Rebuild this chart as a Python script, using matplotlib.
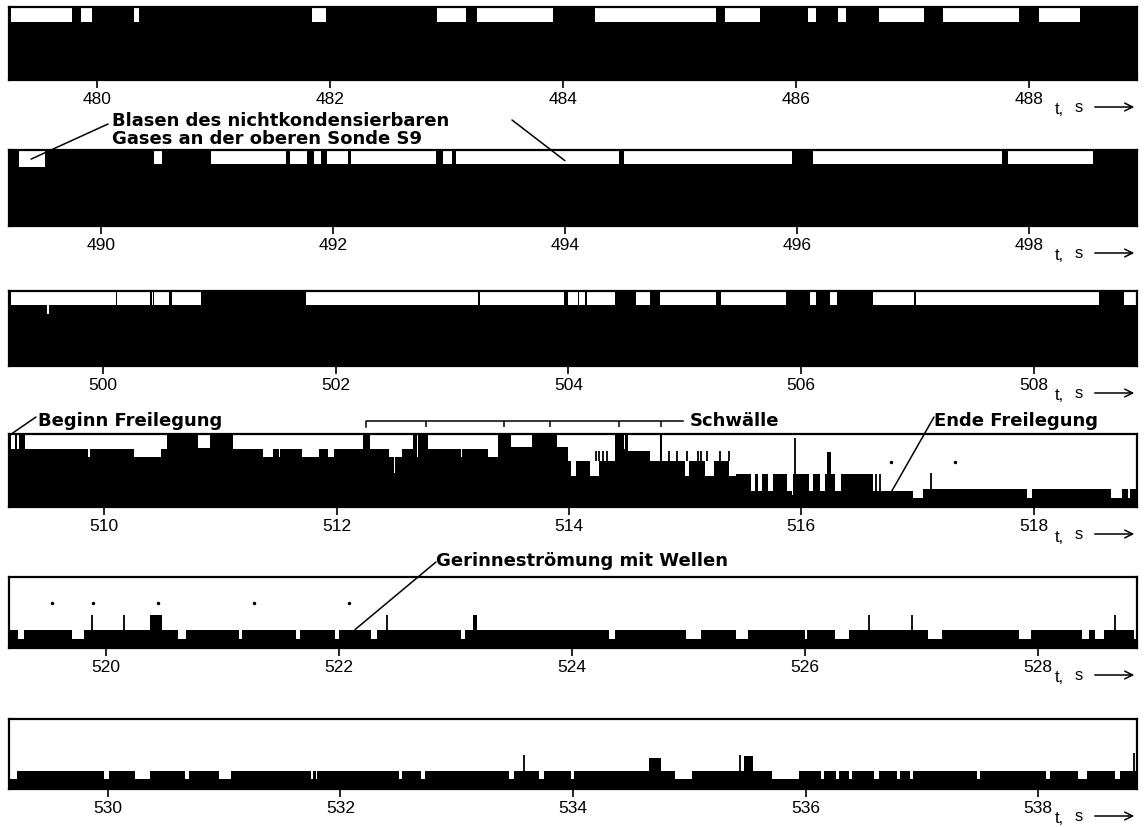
import matplotlib
matplotlib.use("Agg")
import matplotlib.pyplot as plt
from matplotlib.transforms import blended_transform_factory

plt.rcParams["font.family"] = ["Liberation Sans", "DejaVu Sans"]

W, H = 1148, 828
DPI = 100

# ---------------- time windows and tick labels of the six strips ----------------
strip_t0 = [479.24, 489.21, 499.19, 509.18, 519.17, 529.15]
strip_t1 = [488.93, 498.93, 508.89, 518.89, 528.85, 538.85]
strip_ticks = [
    [480, 482, 484, 486, 488],
    [490, 492, 494, 496, 498],
    [500, 502, 504, 506, 508],
    [510, 512, 514, 516, 518],
    [520, 522, 524, 526, 528],
    [530, 532, 534, 536, 538],
]

# ---------------- probe signal: base level + intervals (start, end, level) ----------------
# strip 1 (479 - 489 s)
s1_base = 1.0
s1_start = [479.26, 479.86, 480.31, 481.84, 482.92, 483.26, 484.27, 485.39, 486.10, 486.36, 486.71, 487.26, 488.09]
s1_end   = [479.78, 479.95, 480.36, 481.96, 483.17, 483.91, 485.31, 485.69, 486.17, 486.43, 487.10, 487.92, 488.44]
s1_level = [0.79] * 13

# strip 2 (489 - 499 s)
s2_base = 1.0
s2_start = [489.30, 490.46, 490.95, 491.63, 491.84, 491.95, 492.16, 492.95, 493.06, 494.51, 496.14, 497.82]
s2_end   = [489.52, 490.53, 491.60, 491.78, 491.90, 492.13, 492.89, 493.03, 494.47, 495.96, 497.77, 498.55]
s2_level = [0.78, 0.82, 0.82, 0.82, 0.82, 0.82, 0.82, 0.82, 0.82, 0.82, 0.82, 0.82]

# strip 3 (499 - 509 s)
s3_base = 1.0
s3_start = [499.21, 499.52, 500.12, 500.42, 500.44, 500.59, 501.74, 503.24, 504.00, 504.09, 504.16, 504.58,
            504.79, 505.31, 506.08, 506.25, 506.62, 506.99, 508.78]
s3_end   = [500.11, 499.535, 500.40, 500.43, 500.57, 500.84, 503.22, 503.96, 504.08, 504.14, 504.40, 504.70,
            505.27, 505.87, 506.13, 506.31, 506.97, 508.56, 508.88]
s3_level = [0.81, 0.70, 0.81, 0.81, 0.81, 0.81, 0.81, 0.81, 0.81, 0.81, 0.81, 0.81,
            0.81, 0.81, 0.81, 0.81, 0.81, 0.81, 0.81]

# strip 4 (509 - 519 s): uncovering of the probe
s4_base = 1.0
s4_start = [509.20, 509.25, 509.32, 509.86, 510.26, 510.81, 511.11, 511.37, 511.50, 511.70, 511.93,
            512.29, 512.45, 512.49, 512.68, 512.695, 512.79, 513.07, 513.30, 513.50,
            513.90, 513.99, 514.02, 514.18, 514.445, 514.475, 514.51, 514.70,
            514.80, 514.85, 515.00, 515.17, 515.38,
            515.44, 515.57, 515.63, 515.71, 515.88, 515.92, 516.07, 516.16, 516.29, 516.22,
            516.62, 516.96, 517.05, 517.94, 518.67, 518.81]
s4_end   = [509.235, 509.27, 510.54, 509.875, 510.49, 510.91, 512.23, 511.45, 511.515, 511.85, 511.98,
            512.66, 512.56, 512.50, 512.685, 512.70, 513.39, 513.08, 513.39, 513.68,
            513.99, 514.40, 514.06, 514.26, 514.45, 514.48, 514.70, 514.78,
            515.44, 514.855, 515.03, 515.25, 515.44,
            516.62, 515.60, 515.66, 515.76, 515.93, 515.925, 516.10, 516.20, 516.34, 516.26,
            516.96, 517.05, 518.89, 517.99, 518.76, 518.83]
s4_level = [0.79, 0.79, 0.79, 0.68, 0.68, 0.81, 0.80, 0.69, 0.69, 0.69, 0.69,
            0.80, 0.69, 0.47, 0.68, 0.68, 0.80, 0.68, 0.69, 0.82,
            0.82, 0.63, 0.43, 0.43, 0.80, 0.80, 0.77, 0.63,
            0.63, 0.25, 0.43, 0.43, 0.43,
            0.45, 0.22, 0.22, 0.22, 0.22, 0.16, 0.22, 0.22, 0.22, 0.76,
            0.22, 0.12, 0.25, 0.13, 0.13, 0.13]
s4_spike_t  = [514.23, 514.26, 514.29, 514.33, 514.86, 514.93, 515.02, 515.11, 515.14, 515.19, 515.30, 515.38,
               515.95, 516.64, 516.68, 517.12]
s4_spike_lo = [0.63, 0.63, 0.63, 0.63, 0.63, 0.63, 0.63, 0.63, 0.63, 0.63, 0.63, 0.63,
               0.45, 0.22, 0.22, 0.25]
s4_spike_hi = [0.77, 0.77, 0.77, 0.77, 0.77, 0.77, 0.77, 0.77, 0.77, 0.77, 0.77, 0.77,
               0.94, 0.45, 0.45, 0.46]
s4_dot_t = [516.77, 517.32]
s4_dot_y = [0.62, 0.62]

# strip 5 (519 - 529 s): stratified flow with waves
s5_base = 0.255
s5_start = [519.25, 519.71, 520.62, 521.14, 521.63, 521.97, 522.28, 523.05, 524.32, 524.98, 525.41, 526.00,
            526.26, 527.06, 527.84, 528.38, 528.49, 528.82, 520.38, 523.15]
s5_end   = [519.30, 519.81, 520.69, 521.17, 521.67, 522.00, 522.33, 523.08, 524.37, 525.11, 525.51, 526.02,
            526.38, 527.18, 527.94, 528.44, 528.57, 528.85, 520.48, 523.19]
s5_level = [0.13] * 18 + [0.47, 0.47]
s5_spike_t  = [519.88, 520.16, 522.41, 526.55, 526.92, 528.66]
s5_spike_lo = [0.255] * 6
s5_spike_hi = [0.47, 0.47, 0.47, 0.47, 0.47, 0.47]
s5_dot_t = [519.54, 519.89, 520.45, 521.27, 522.09]
s5_dot_y = [0.63, 0.63, 0.63, 0.63, 0.63]

# strip 6 (529 - 539 s)
s6_base = 0.26
s6_start = [529.16, 529.97, 530.23, 530.66, 530.96, 531.75, 531.79, 532.50, 532.69, 533.45, 533.71, 533.98,
            534.88, 535.71, 536.13, 536.26, 536.37, 536.59, 536.79, 536.90, 537.47, 538.07, 538.34, 538.66,
            534.65, 535.47]
s6_end   = [529.22, 530.01, 530.36, 530.70, 531.06, 531.765, 531.80, 532.53, 532.73, 533.49, 533.75, 534.01,
            535.02, 535.94, 536.16, 536.29, 536.40, 536.63, 536.81, 536.92, 537.50, 538.10, 538.42, 538.70,
            534.76, 535.55]
s6_level = [0.14] * 24 + [0.45, 0.47]
s6_spike_t  = [533.58, 535.44, 538.82]
s6_spike_lo = [0.26, 0.26, 0.26]
s6_spike_hi = [0.48, 0.48, 0.52]

strips = [
    (s1_base, s1_start, s1_end, s1_level, [], [], [], [], []),
    (s2_base, s2_start, s2_end, s2_level, [], [], [], [], []),
    (s3_base, s3_start, s3_end, s3_level, [], [], [], [], []),
    (s4_base, s4_start, s4_end, s4_level, s4_spike_t, s4_spike_lo, s4_spike_hi, s4_dot_t, s4_dot_y),
    (s5_base, s5_start, s5_end, s5_level, s5_spike_t, s5_spike_lo, s5_spike_hi, s5_dot_t, s5_dot_y),
    (s6_base, s6_start, s6_end, s6_level, s6_spike_t, s6_spike_lo, s6_spike_hi, [], []),
]

# strip frames in pixels (top, bottom), x from left to right edge
strip_top = [8, 151, 292, 435, 578, 720]
strip_bot = [81, 227, 367, 508, 649, 790]
X_LEFT, X_RIGHT = 9, 1137


def profile(t0, t1, base, starts, ends, levels):
    """Step profile: later intervals override earlier ones."""
    edges = sorted(set([t0, t1] + list(starts) + list(ends)))
    lv = []
    for a, b in zip(edges[:-1], edges[1:]):
        m = 0.5 * (a + b)
        v = base
        for s, e, l in zip(starts, ends, levels):
            if s <= m < e:
                v = l
        lv.append(v)
    lv.append(lv[-1])
    return edges, lv


fig = plt.figure(figsize=(W / DPI, H / DPI), dpi=DPI)
fig.patch.set_facecolor("white")

axes = []
for i, (base, st, en, lvl, sp_t, sp_lo, sp_hi, d_t, d_y) in enumerate(strips):
    top, bot = strip_top[i], strip_bot[i]
    ax = fig.add_axes([X_LEFT / W, 1 - bot / H, (X_RIGHT - X_LEFT) / W, (bot - top) / H])
    t0, t1 = strip_t0[i], strip_t1[i]
    edges, lv = profile(t0, t1, base, st, en, lvl)
    ax.fill_between(edges, 0, lv, step="post", color="black", lw=0)
    if sp_t:
        ax.vlines(sp_t, sp_lo, sp_hi, color="black", lw=1.3)
    if d_t:
        ax.plot(d_t, d_y, ".", color="black", ms=3)
    ax.set_xlim(t0, t1)
    ax.set_ylim(0, 1)
    ax.set_yticks([])
    ax.set_xticks(strip_ticks[i])
    ax.set_xticklabels([str(v) for v in strip_ticks[i]])
    ax.tick_params(axis="x", direction="out", length=6, width=1.2, pad=2, labelsize=12.5)
    for sp in ax.spines.values():
        sp.set_linewidth(1.6)
        sp.set_color("black")
    axes.append(ax)

    # time axis label at the right end of the strip
    ly = H - (bot + 29)
    fig.text(1055 / W, ly / H, "t,", fontsize=12, ha="left", va="center")
    fig.text(1075 / W, (ly + 2) / H, "s", fontsize=12, ha="left", va="center")
    fig.add_artist(matplotlib.patches.FancyArrowPatch(
        (1092 / W, (ly + 2) / H), (1137 / W, (ly + 2) / H),
        transform=fig.transFigure, arrowstyle="->", mutation_scale=14, lw=1.1, color="black"))


def fig_px(x, y):
    return (x, H - y)


bold = dict(fontsize=13, fontweight="bold", family=["DejaVu Sans"])
line_kw = dict(arrowstyle="-", lw=1.1, color="black", shrinkA=0, shrinkB=0)

# bubbles of non-condensable gas
fig.text(112 / W, 1 - 121 / H, "Blasen des nichtkondensierbaren", ha="left", va="center", **bold)
fig.text(112 / W, 1 - 139 / H, "Gases an der oberen Sonde S9", ha="left", va="center", **bold)
axes[1].annotate("", xy=(489.40, 0.88), xycoords="data", xytext=fig_px(108, 125),
                 textcoords="figure pixels", annotation_clip=False, arrowprops=line_kw)
axes[1].annotate("", xy=(494.0, 0.86), xycoords="data", xytext=fig_px(512, 121),
                 textcoords="figure pixels", annotation_clip=False, arrowprops=line_kw)

# start / end of uncovering
fig.text(38 / W, 1 - 421 / H, "Beginn Freilegung", ha="left", va="center", **bold)
axes[3].annotate("", xy=(509.20, 1.0), xycoords="data", xytext=fig_px(36, 418),
                 textcoords="figure pixels", annotation_clip=False, arrowprops=line_kw)
fig.text(934 / W, 1 - 421 / H, "Ende Freilegung", ha="left", va="center", **bold)
axes[3].annotate("", xy=(516.78, 0.22), xycoords="data", xytext=fig_px(934, 418),
                 textcoords="figure pixels", annotation_clip=False, arrowprops=line_kw)

# slugs: bracket above strip 4
slug_start, slug_end = 512.25, 514.98
slug_marks = [512.77, 513.44, 513.84, 514.43, 514.79]
tr = blended_transform_factory(axes[3].transData, axes[3].transAxes)
axes[3].plot([slug_start, slug_start, slug_end], [1.10, 1.18, 1.18], color="black", lw=1.1,
             transform=tr, clip_on=False)
axes[3].vlines(slug_marks, 1.09, 1.18, color="black", lw=1.1, transform=tr, clip_on=False)
fig.text(690 / W, 1 - 421 / H, "Schwälle", ha="left", va="center", **bold)

# stratified flow
fig.text(436 / W, 1 - 561 / H, "Gerinneströmung mit Wellen", ha="left", va="center", **bold)
axes[4].annotate("", xy=(522.14, 0.26), xycoords="data", xytext=fig_px(436, 563),
                 textcoords="figure pixels", annotation_clip=False, arrowprops=line_kw)

fig.savefig("out.png", dpi=DPI, facecolor="white")
